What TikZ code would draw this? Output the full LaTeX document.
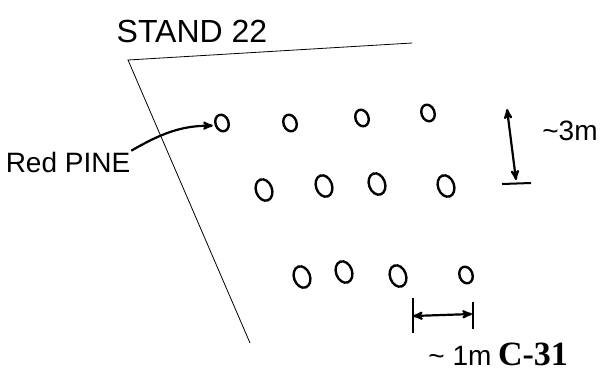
\documentclass[tikz,border=0pt]{standalone}
\usepackage{fontspec}
\setmainfont{Liberation Sans}
\newfontfamily\platefont{Liberation Serif}
\usepackage{tikz}
\usetikzlibrary{shapes,positioning,arrows}
\tikzset {
tree/.style={shape=ellipse,draw,line width=2.4pt,minimum width=13pt,minimum height=17pt,inner sep=0pt,rotate=20},
bigtree/.style={tree,minimum width=16pt,minimum height=22pt},
note/.style={font=\fontsize{28}{30}\selectfont,inner sep=0pt},
plate/.style={font=\platefont\bfseries\fontsize{34}{36}\selectfont,inner sep=0pt}
}

\begin{document}
\begin{tikzpicture}
[>=stealth',x=1pt,y=-1pt,line width=2pt]
\useasboundingbox (0,0) rectangle (609,373);
\node[note,font=\fontsize{32}{34}\selectfont] (stand) at (192,31) {STAND 22};
\draw[line width=0.8pt] (412,43) -- (128,60) -- (250,343);
\node[note] (pine) at (68,162) {Red PINE};
% first row
\node[tree] (r1a) at (222,123) {};
\node[tree] (r1b) at (290,123) {};
\node[tree] (r1c) at (362,118) {};
\node[tree] (r1d) at (428,113) {};
% second row
\node[bigtree] (r2a) at (264,190) {};
\node[bigtree] (r2b) at (324,186) {};
\node[bigtree] (r2c) at (377,184) {};
\node[bigtree] (r2d) at (446,186) {};
% third row
\node[bigtree] (r3a) at (302,277) {};
\node[bigtree] (r3b) at (344,272) {};
\node[bigtree] (r3c) at (398,276) {};
\node[tree] (r3d) at (466,275) {};

\draw[->,line width=2.2pt,shorten >=2pt] (pine.north east) to [out=30,in=180] (r1a.west);

\coordinate (vtop) at (507,109);
\coordinate (vbot) at (516,180);
\coordinate (barl) at (502,184);
\coordinate (barr) at (531,183);
\draw[<->,line width=2.2pt] (vtop) -- (vbot);
\draw (barl) -- (barr);
\node[note] (height) at (570,131) {\textasciitilde3m};

\coordinate (hl) at (413,316);
\coordinate (hr) at (472,314);
\draw (413,298) -- (413,333);
\draw (473,302) -- (473,329);
\draw[<->,line width=2.2pt] (hl) -- (hr);
\node[note] (width) at (460,356) {\textasciitilde{} 1m};
\node[plate] (label) at (533,354) {C-31};
\end{tikzpicture}
\end{document}
